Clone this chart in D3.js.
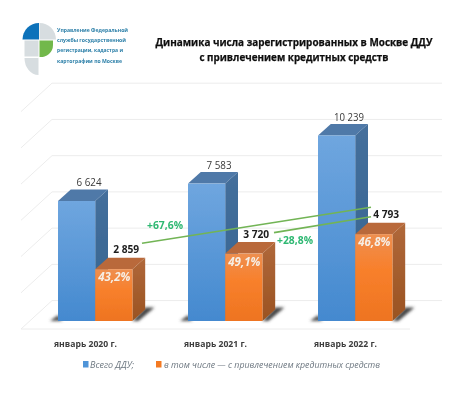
<!DOCTYPE html>
<html><head><meta charset="utf-8">
<script src="https://cdn.jsdelivr.net/npm/d3@7/dist/d3.min.js"></script>
<style>html,body{margin:0;padding:0;background:#fff}svg{display:block}text{font-family:"Open Sans",sans-serif}</style>
</head><body><svg id="c" width="450" height="393"></svg>
<script>
const categories=["январь 2020 г.","январь 2021 г.","январь 2022 г."];
const totalValues=[6624,7583,10239];
const creditValues=[2859,3720,4793];
const totalLabels=["6 624","7 583","10 239"];
const creditLabels=["2 859","3 720","4 793"];
const shareLabels=["43,2%","49,1%","46,8%"];
const growthLabels=["+67,6%","+28,8%"];
const titleLines=["Динамика числа зарегистрированных в Москве ДДУ","с привлечением кредитных средств"];
const logoLines=["Управление Федеральной","службы государственной","регистрации, кадастра и","картографии по Москве"];
const legendLabels=["Всего ДДУ;","в том числе — с привлечением кредитных средств"];
const gridTicks=[0,2000,4000,6000,8000,10000,12000];

const svg=d3.select("#c");
const defs=svg.append("defs");
const grad=(id,stops)=>{const g=defs.append("linearGradient").attr("id",id).attr("x1",0).attr("x2",0).attr("y1",0).attr("y2",1);
 stops.forEach(([o,c])=>g.append("stop").attr("offset",o).attr("stop-color",c));};
grad("gb",[[0,"#6fa6df"],[1,"#4489cf"]]);
grad("gbs",[[0,"#456f9c"],[1,"#33648f"]]);
grad("go",[[0,"#ee8f50"],[.4,"#f8802c"],[1,"#ee7420"]]);
grad("gos",[[0,"#b0683a"],[1,"#9a5322"]]);
defs.append("filter").attr("id","soft").attr("x","-5%").attr("y","-5%").attr("width","110%").attr("height","110%")
 .append("feGaussianBlur").attr("stdDeviation",0.55);
defs.append("filter").attr("id","shad").attr("x","-40%").attr("y","-40%").attr("width","180%").attr("height","180%")
 .append("feGaussianBlur").attr("stdDeviation",1.5);

const root=svg.append("g").attr("filter","url(#soft)");
const groupX=d3.scalePoint().domain(categories).range([58,318]);
const barW=37.2, dx=12.8, dy=11.5;
const y=d3.scaleLinear().domain([0,12000]).range([321,103.6]);
const wallShift=20.4, floorFront=8, wallLeft=52, wallRight=442, frontLeft=21, frontRight=410;

const grid=root.append("g").attr("fill","none").attr("stroke","#ececec").attr("stroke-width",1);
gridTicks.forEach(t=>{
 const yy=y(t)-wallShift;
 grid.append("line").attr("x1",wallLeft).attr("x2",wallRight).attr("y1",yy).attr("y2",yy);
 grid.append("line").attr("x1",wallLeft).attr("x2",frontLeft).attr("y1",yy).attr("y2",yy+wallShift+floorFront);
});
grid.append("line").attr("x1",frontLeft).attr("x2",frontRight).attr("y1",y(0)+floorFront).attr("y2",y(0)+floorFront);

const pts=a=>a.map(p=>p.join(",")).join(" ");
function bar(g,x0,val,front,side){
 const t=y(val),b=y(0),r=x0+barW;
 g.append("polygon").attr("points",pts([[x0,t],[x0+dx,t-dy],[r+dx,t-dy],[r,t]])).attr("fill",side==="gbs"?"#4f79a8":"#b9693a");
 g.append("polygon").attr("points",pts([[r,t],[r+dx,t-dy],[r+dx,b-dy],[r,b]])).attr("fill",`url(#${side})`);
 g.append("rect").attr("x",x0).attr("y",t).attr("width",barW).attr("height",b-t).attr("fill",`url(#${front})`);
}
categories.forEach((c,i)=>{
 const x0=groupX(c), g=root.append("g"), b=y(0), r=x0+2*barW;
 g.append("polygon").attr("points",pts([[x0-8,b],[x0,b-6],[x0+4,b]])).attr("fill","#555").attr("filter","url(#shad)");
 g.append("polygon").attr("points",pts([[r,b],[r+dx,b-dy-2],[r+22,b-dy-2],[r+6,b]])).attr("fill","#444").attr("filter","url(#shad)");
 bar(g,x0,totalValues[i],"gb","gbs");
 bar(g,x0+barW,creditValues[i],"go","gos");
});

categories.forEach((c,i)=>{
 const x0=groupX(c);
 root.append("text").attr("x",x0+31).attr("y",y(totalValues[i])-15).attr("text-anchor","middle")
  .attr("font-size",11).attr("fill","#3a3a3a").attr("textLength",i===2?30:25).attr("lengthAdjust","spacingAndGlyphs").text(totalLabels[i]);
 root.append("text").attr("x",x0+barW*1.5+.5).attr("y",y(creditValues[i])+12).attr("text-anchor","middle")
  .attr("font-size",11.5).attr("font-style","italic").attr("font-weight",700).attr("fill","#f6efe6").text(shareLabels[i]);
 root.append("text").attr("x",x0+barW+31).attr("y",y(creditValues[i])-16).attr("text-anchor","middle")
  .attr("font-size",11).attr("font-weight",700).attr("fill","#1c1c1c").attr("textLength",26).attr("lengthAdjust","spacingAndGlyphs").text(creditLabels[i]);
 root.append("text").attr("x",x0+27.5).attr("y",y(0)+26).attr("text-anchor","middle")
  .attr("font-size",9.5).attr("font-weight",700).attr("fill","#3c3c3c").attr("textLength",63).attr("lengthAdjust","spacingAndGlyphs").text(c);
});

const last=categories.length-1, endX=groupX(categories[last])+53;
const line=(x1,y1,x2,y2)=>root.append("line").attr("x1",x1).attr("y1",y1).attr("x2",x2).attr("y2",y2)
 .attr("stroke","#72b455").attr("stroke-width",1.6);
line(groupX(categories[0])+84,y(creditValues[0])-26,endX,y(creditValues[2])-27);
line(groupX(categories[1])+86,y(creditValues[1])-21,endX,y(creditValues[2])-17.5);
root.append("text").attr("x",165).attr("y",229).attr("text-anchor","middle").attr("font-size",11).attr("font-weight",700).attr("fill","#2eb872").attr("textLength",36).attr("lengthAdjust","spacingAndGlyphs").text(growthLabels[0]);
root.append("text").attr("x",295).attr("y",244).attr("text-anchor","middle").attr("font-size",11).attr("font-weight",700).attr("fill","#2eb872").attr("textLength",36).attr("lengthAdjust","spacingAndGlyphs").text(growthLabels[1]);

root.append("rect").attr("x",83).attr("y",361).attr("width",5.5).attr("height",6.5).attr("fill","#4f94d8");
root.append("text").attr("x",90).attr("y",367.5).attr("font-size",9).attr("font-style","italic").attr("fill","#6d7780").attr("textLength",44).attr("lengthAdjust","spacingAndGlyphs").text(legendLabels[0]);
root.append("rect").attr("x",156).attr("y",361).attr("width",5.5).attr("height",6.5).attr("fill","#f47a20");
root.append("text").attr("x",164).attr("y",367.5).attr("font-size",9).attr("font-style","italic").attr("fill","#6d7780").attr("textLength",216).attr("lengthAdjust","spacingAndGlyphs").text(legendLabels[1]);

titleLines.forEach((t,i)=>root.append("text").attr("x",294).attr("y",i?61:46).attr("text-anchor","middle")
 .attr("font-size",10.2).attr("font-weight",700).attr("fill","#111").attr("stroke","#111").attr("stroke-width",0.25).attr("textLength",i?189:277).attr("lengthAdjust","spacingAndGlyphs").text(t));

const logo=root.append("g");
const arc=d3.arc();
logo.append("path").attr("transform","translate(39,39.5)").attr("d",arc({innerRadius:0,outerRadius:16.5,startAngle:-Math.PI/2,endAngle:0})).attr("fill","#0f72ba");
logo.append("path").attr("transform","translate(39.5,39.5)").attr("d",arc({innerRadius:0,outerRadius:16.5,startAngle:0,endAngle:Math.PI/2})).attr("fill","#d7dde0");
logo.append("rect").attr("x",24.5).attr("y",40.5).attr("width",14).attr("height",16).attr("fill","#d7dde0");
logo.append("path").attr("d","M39.5 40.5H53V45A12 12 0 0 1 39.5 57Z").attr("fill","#72b84c");
logo.append("path").attr("d","M24.5 58H38.5V75A14 17 0 0 1 24.5 58Z").attr("fill","#d7dde0");
logoLines.forEach((t,i)=>logo.append("text").attr("x",57).attr("y",32+i*10.2).attr("font-size",6).attr("font-weight",700).attr("fill","#2b7fa8").attr("textLength",[71,69,66,65][i]).attr("lengthAdjust","spacingAndGlyphs").text(t));
</script></body></html>
